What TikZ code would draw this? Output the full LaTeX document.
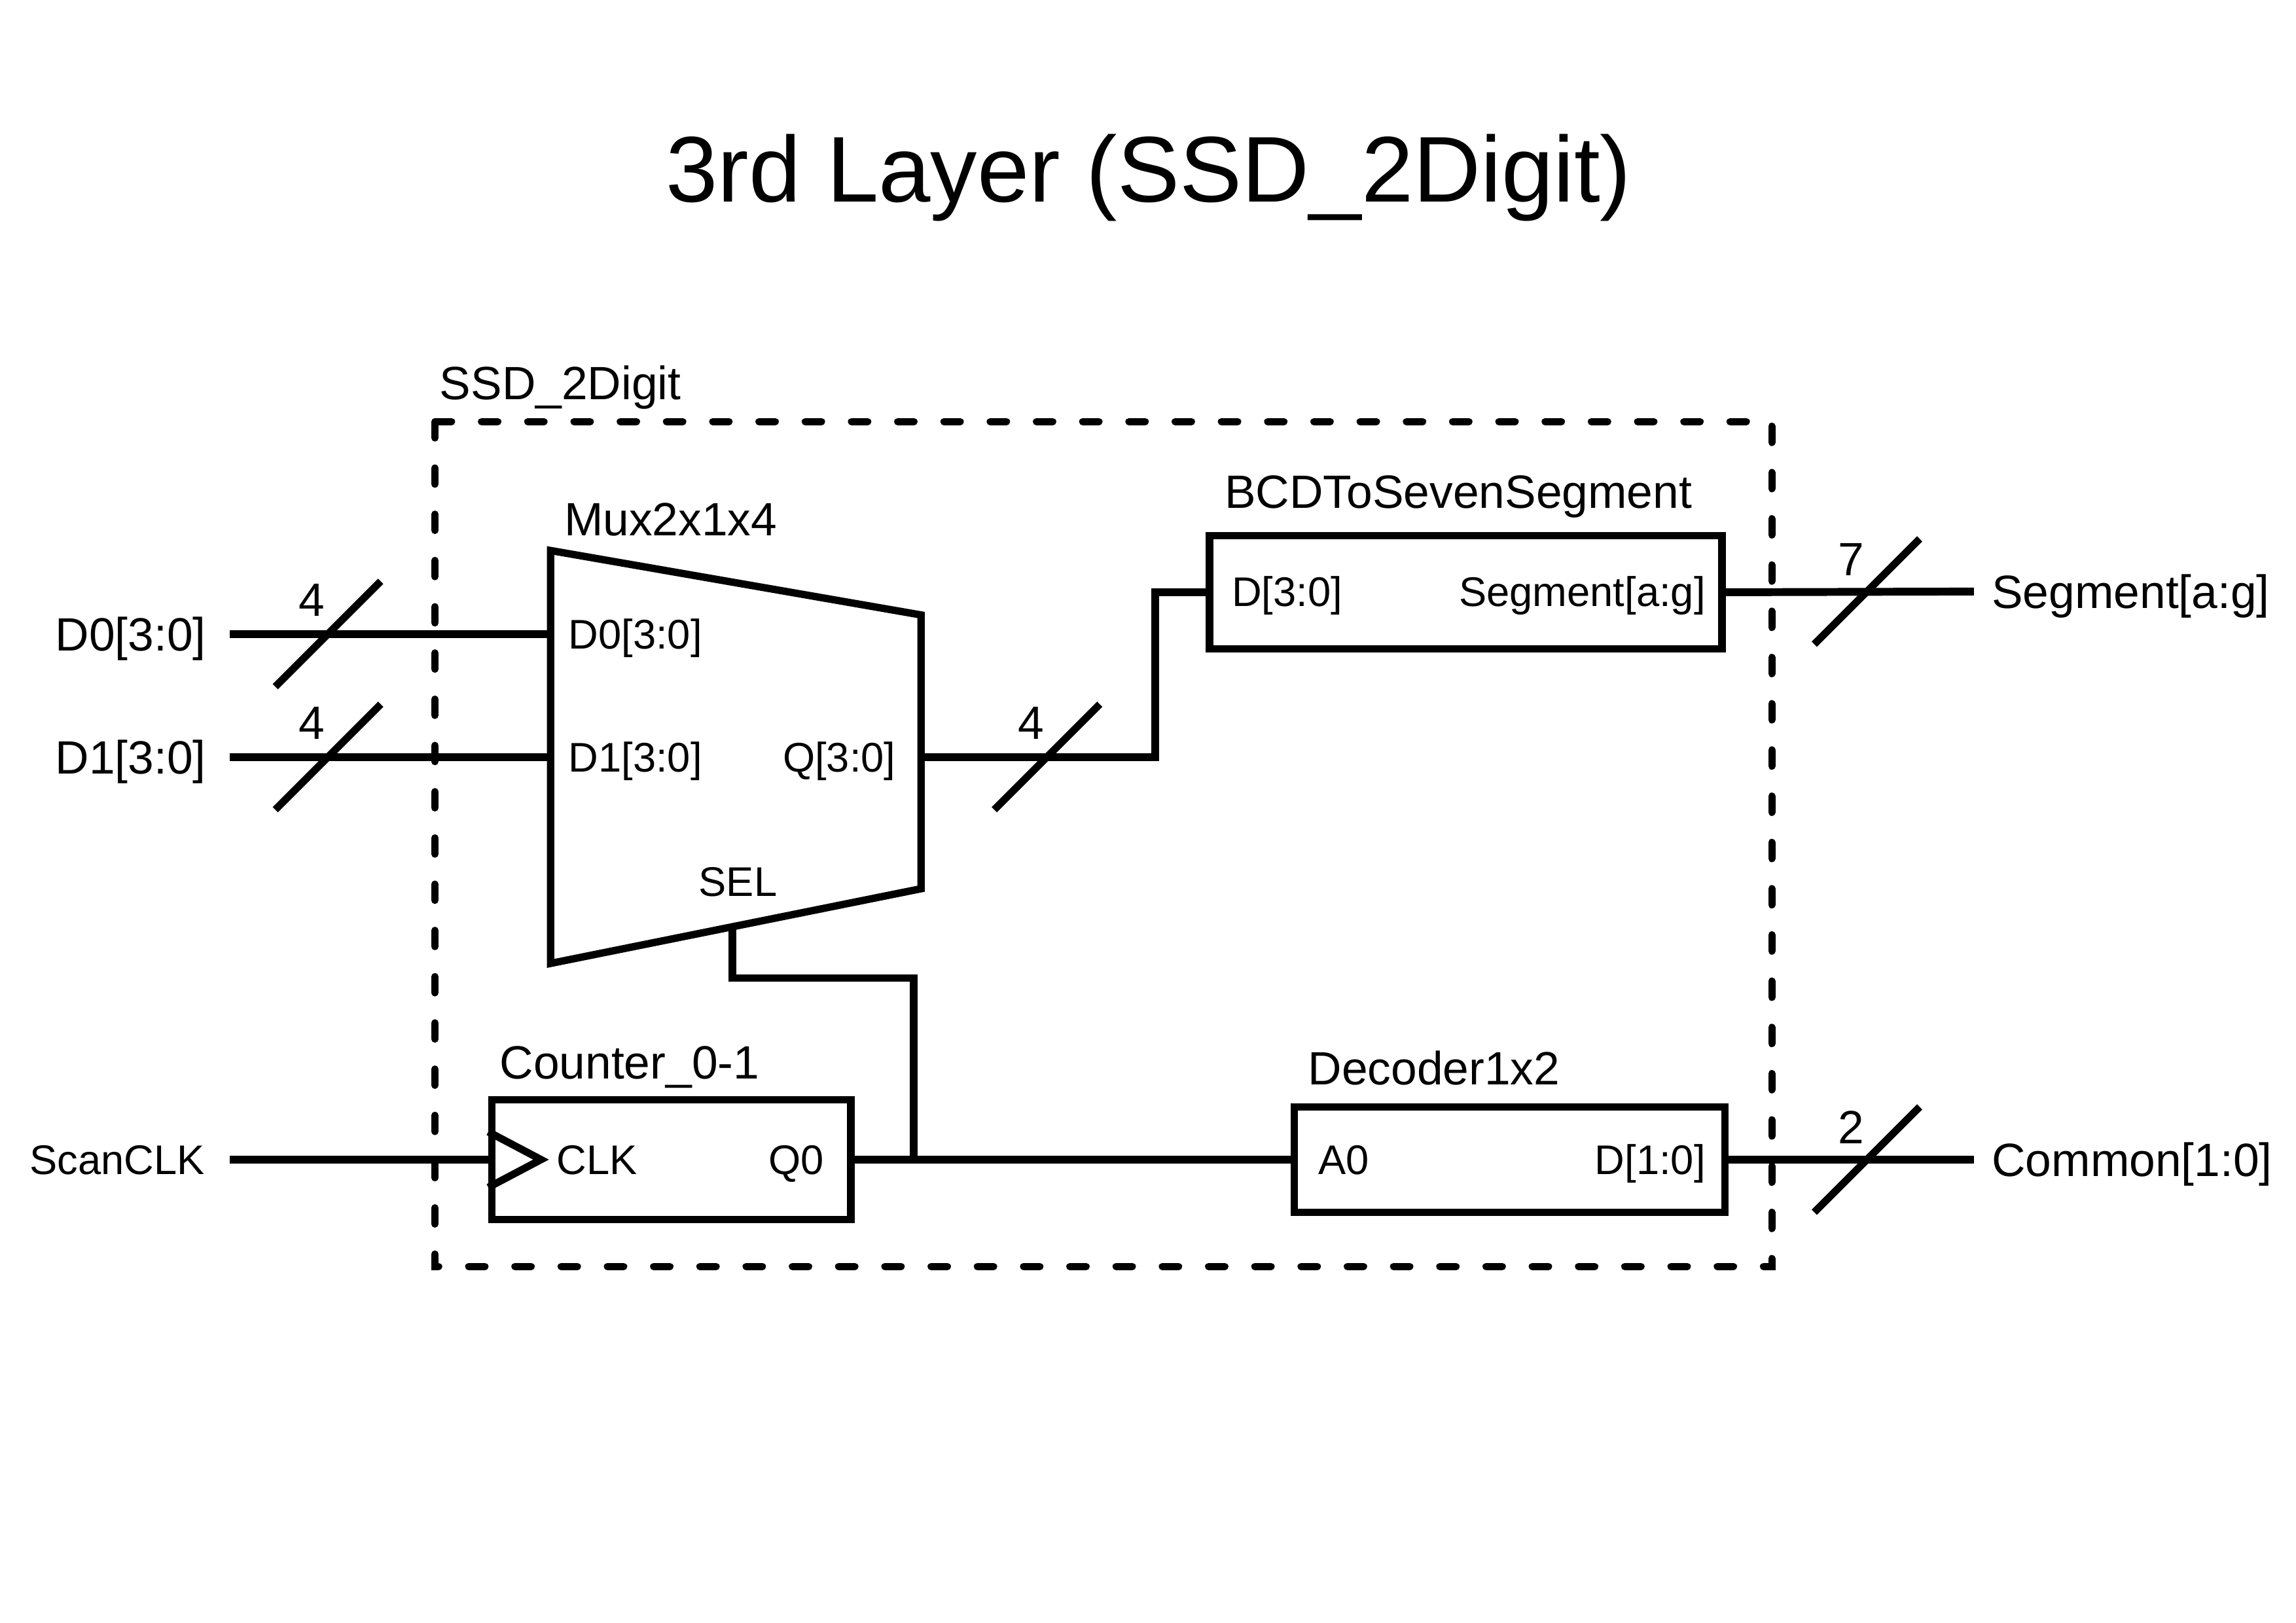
\documentclass[tikz,border=0pt]{standalone}
\usepackage{fontspec}
\setmainfont{Liberation Sans}
\usetikzlibrary{calc}
\begin{document}
\begin{tikzpicture}[x=0.022372cm,y=-0.022372cm,
  wire/.style={line width=3.4pt},
  blk/.style={line width=3.2pt, line join=miter},
  busslash/.style={line width=3.2pt},
  frame/.style={line width=3.1pt, line cap=round, dash pattern=on 7.1pt off 13pt},
  big/.style={font=\fontsize{20.3}{24}\selectfont, inner sep=0pt, text height=14.5pt, text depth=0pt},
  small/.style={font=\fontsize{18}{22}\selectfont, inner sep=0pt, text height=12.9pt, text depth=0pt},
  titlefont/.style={font=\fontsize{40.6}{48}\selectfont, inner sep=0pt},
  box/.style={draw, blk, rectangle, inner sep=0pt}]
\useasboundingbox (0,0) rectangle (1568,1108.5);

% title
\node[titlefont, anchor=base] (title) at (784.5,138) {3rd Layer (SSD\_2Digit)};

% frame
\draw[frame] (297,288) rectangle (1210,865);
\node[big, anchor=base west] (framelab) at (300,273) {SSD\_2Digit};

% multiplexer
\coordinate (mtl) at (376,376);
\coordinate (mbl) at (376,658);
\coordinate (mtr) at (629,420);
\coordinate (mbr) at (629,607);
\draw[blk] (mtl) -- (mtr) -- (mbr) -- (mbl) -- cycle;
\node[big, anchor=base west] (muxlab) at (385,366) {Mux2x1x4};
\coordinate (md0) at (376,433);
\coordinate (md1) at (376,517);
\coordinate (mq) at (629,517);
\coordinate (sel) at ($(mbl)!0.49!(mbr)$);
\node[small, anchor=west] (pd0) at (388,433) {D0[3:0]};
\node[small, anchor=west] (pd1) at (388,517) {D1[3:0]};
\node[small, anchor=east] (pq) at (612,517) {Q[3:0]};
\node[small, anchor=base] (psel) at (504,612) {SEL};

% BCD to seven segment
\node[box, minimum width=7.830cm, minimum height=1.723cm] (bcd) at (1001,404.5) {};
\node[big, anchor=base west] (bcdlab) at (836,347) {BCDToSevenSegment};
\node[small, anchor=west] (bd) at (841,404) {D[3:0]};
\node[small, anchor=east] (bseg) at (1165,404) {Segment[a:g]};

% counter
\node[box, minimum width=5.481cm, minimum height=1.835cm] (cnt) at (458.5,792) {};
\node[big, anchor=base west] (cntlab) at (341,737) {Counter\_0-1};
\draw[blk] ($(cnt.west)+(0,-19)$) -- ($(cnt.west)+(36,0)$) -- ($(cnt.west)+(0,19)$);
\node[small, anchor=west] (cclk) at (380,792) {CLK};
\node[small, anchor=east] (cq0) at (563,792) {Q0};

% decoder
\node[box, minimum width=6.577cm, minimum height=1.611cm] (dec) at (1031,792) {};
\node[big, anchor=base west] (declab) at (893,741) {Decoder1x2};
\node[small, anchor=west] (da0) at (900,792) {A0};
\node[small, anchor=east] (dd) at (1165,792) {D[1:0]};

% outer labels and wire ends
\node[big, anchor=east] (d0lab) at (141,433) {D0[3:0]};
\node[big, anchor=east] (d1lab) at (141,517) {D1[3:0]};
\node[small, anchor=east] (clklab) at (140,792) {ScanCLK};
\node[big, anchor=west] (seglab) at (1360,404) {Segment[a:g]};
\node[big, anchor=west] (comlab) at (1360,792) {Common[1:0]};
\coordinate (d0s) at (157,433);
\coordinate (d1s) at (157,517);
\coordinate (clks) at (157,792);
\coordinate (sege) at (1348,404);
\coordinate (come) at (1348,792);
\coordinate (qb) at (789,517);
\coordinate (k) at (624,668);
\coordinate (j) at (624,792);

% wires
\draw[wire] (d0s) -- (md0);
\draw[wire] (d1s) -- (md1);
\draw[wire] (mq) -- (qb) |- (bcd.west);
\draw[wire] (bcd.east) -- (sege);
\draw[wire] (clks) -- (cnt.west);
\draw[wire] (cnt.east) -- (dec.west);
\draw[wire] (sel) |- (k) -- (j);
\draw[wire] (dec.east) -- (come);

% bus slashes
\coordinate (s1) at (224,433);
\coordinate (s2) at (224,517);
\coordinate (s3) at (715,517);
\coordinate (s4) at (1275,404);
\coordinate (s5) at (1275,792);
\foreach \s in {s1,s2,s3,s4,s5}
  \draw[busslash] ($(\s)+(-36,36)$) -- ($(\s)+(36,-36)$);
\node[big, anchor=base] (n1) at (213,421) {4};
\node[big, anchor=base] (n2) at (213,505) {4};
\node[big, anchor=base] (n3) at (704,505) {4};
\node[big, anchor=base] (n4) at (1264,393) {7};
\node[big, anchor=base] (n5) at (1264,781) {2};
\end{tikzpicture}
\end{document}
